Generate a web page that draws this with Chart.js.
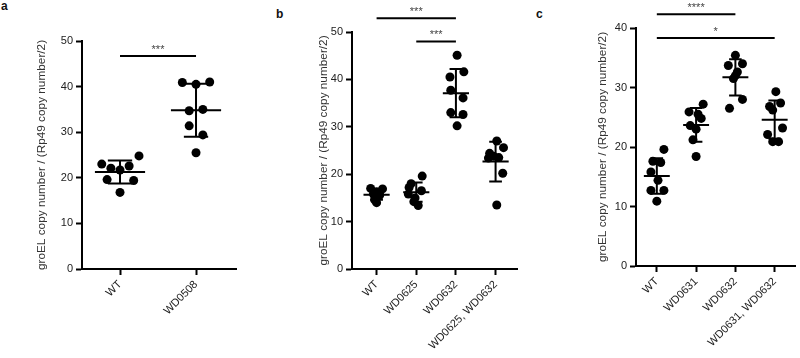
<!DOCTYPE html>
<html>
<head>
<meta charset="utf-8">
<script src="https://cdn.jsdelivr.net/npm/chart.js@4.4.0/dist/chart.umd.min.js"></script>
<style>
    body { margin: 0; width: 800px; height: 358px; background: #fff; position: relative; overflow: hidden; font-family: "Liberation Sans", Arial, sans-serif; }
    canvas { position: absolute; top: 0; }
    .lbl { position: absolute; font-size: 12px; line-height: 12px; font-weight: bold; color: #111; }
</style>
</head>
<body>
<div class="lbl" style="left:1px;top:0px">a</div>
<div class="lbl" style="left:276px;top:8px">b</div>
<div class="lbl" style="left:536px;top:8px">c</div>
<canvas id="chartA" width="270" height="358" style="left:0px"></canvas>
<canvas id="chartB" width="270" height="358" style="left:270px"></canvas>
<canvas id="chartC" width="260" height="358" style="left:540px"></canvas>
<script>
// panel a
var labelsA = ['WT', 'WD0508'];
var aWT = [23.0, 22.1, 21.7, 22.6, 24.8, 19.6, 19.4, 16.8];
var aWD0508 = [40.9, 40.5, 41.0, 34.7, 35.0, 31.4, 29.4, 25.5];
var jitA = [[-0.24, -0.12, 0, 0.12, 0.25, -0.17, 0.18, 0], [-0.18, 0, 0.18, -0.09, 0.09, -0.09, 0.09, 0]];
var sigA = [{ from: 0, to: 1, y: 46.7, text: '***' }];

// panel b
var labelsB = ['WT', 'WD0625', 'WD0632', 'WD0625, WD0632'];
var bWT = [17.0, 16.9, 16.3, 15.8, 15.6, 15.2, 14.6, 14.0];
var bWD0625 = [19.6, 18.0, 17.2, 16.5, 15.8, 15.0, 14.2, 13.4];
var bWD0632 = [45.1, 41.6, 40.5, 37.7, 36.1, 33.0, 32.6, 30.2];
var bBoth = [27.0, 25.6, 24.4, 23.8, 23.5, 23.4, 20.2, 13.5];
var jitB = [
    [-0.15, 0.15, 0, -0.08, 0.08, 0, -0.05, 0],
    [0.15, -0.13, -0.18, 0.13, -0.2, -0.03, -0.06, 0.05],
    [0.03, 0.2, -0.15, -0.13, 0.18, -0.13, 0.18, 0.03],
    [0.03, 0.2, -0.15, -0.05, 0.08, -0.18, 0.18, 0.03]
];
var sigB = [{ from: 0, to: 2, y: 52.9, text: '***' }, { from: 1, to: 2, y: 48.0, text: '***' }];

// panel c
var labelsC = ['WT', 'WD0631', 'WD0632', 'WD0631, WD0632'];
var cWT = [19.6, 17.6, 17.4, 15.8, 14.4, 12.7, 12.7, 10.9];
var cWD0631 = [27.2, 25.9, 25.5, 24.8, 23.6, 23.0, 21.2, 18.4];
var cWD0632 = [35.4, 34.0, 33.7, 32.6, 32.0, 31.5, 28.0, 26.5];
var cBoth = [29.3, 27.4, 26.8, 26.2, 23.2, 22.1, 20.9, 20.9];
var jitC = [
    [0.18, -0.1, 0.1, -0.15, 0.03, -0.15, 0.18, 0],
    [0.18, -0.18, 0.05, 0.13, -0.15, 0, -0.08, 0],
    [0, 0.18, -0.18, 0.05, 0, -0.05, 0.18, -0.15],
    [0.03, 0.15, -0.13, -0.05, 0.2, -0.18, -0.05, 0.1]
];
var sigC = [{ from: 0, to: 2, y: 42.3, text: '****' }, { from: 0, to: 3, y: 38.3, text: '*' }];

var yTitle = 'groEL copy number / (Rp49 copy number/2)';
var FONT = '"Liberation Sans", Arial, sans-serif';

function mean(a) { return a.reduce(function (s, v) { return s + v; }, 0) / a.length; }
function sd(a) {
    var m = mean(a);
    return Math.sqrt(a.reduce(function (s, v) { return s + (v - m) * (v - m); }, 0) / (a.length - 1));
}

// draws the significance brackets and stars, placed with the chart scales
function sigPlugin(list) {
    return {
        id: 'sig',
        afterDatasetsDraw: function (chart) {
            var ctx = chart.ctx, xs = chart.scales.x, ys = chart.scales.y;
            ctx.save();
            list.forEach(function (s) {
                var x1 = xs.getPixelForValue(s.from), x2 = xs.getPixelForValue(s.to), y = ys.getPixelForValue(s.y);
                ctx.strokeStyle = '#000';
                ctx.lineWidth = 2;
                ctx.beginPath();
                ctx.moveTo(x1, y);
                ctx.lineTo(x2, y);
                ctx.stroke();
                ctx.fillStyle = '#444';
                ctx.font = '11px ' + FONT;
                ctx.textAlign = 'center';
                ctx.fillText(s.text, (x1 + x2) / 2, y - 3);
            });
            ctx.restore();
        }
    };
}

function makePanel(id, labels, groups, jit, sig, p) {
    var points = [], meanLine = [], sdLine = [];
    groups.forEach(function (vals, g) {
        vals.forEach(function (v, k) { points.push({ x: g + jit[g][k], y: v }); });
        var m = mean(vals), s = sd(vals);
        meanLine.push({ x: g - 0.33, y: m }, { x: g + 0.33, y: m }, { x: g, y: null });
        sdLine.push({ x: g, y: m - s }, { x: g, y: m + s }, { x: g, y: null });
        sdLine.push({ x: g - 0.16, y: m + s }, { x: g + 0.16, y: m + s }, { x: g, y: null });
        sdLine.push({ x: g - 0.16, y: m - s }, { x: g + 0.16, y: m - s }, { x: g, y: null });
    });

    var tickFont = { family: FONT, size: 11 };
    var axisGrid = { drawOnChartArea: false, drawTicks: true, tickLength: 6, tickWidth: 2, tickColor: '#000' };

    new Chart(document.getElementById(id), {
        type: 'scatter',
        data: {
            datasets: [{
                data: points,
                pointRadius: 4.5,
                pointBorderWidth: 0,
                backgroundColor: '#000',
                borderColor: '#000'
            }, {
                type: 'line',
                data: meanLine,
                borderColor: '#000',
                borderWidth: 2,
                pointRadius: 0,
                spanGaps: false
            }, {
                type: 'line',
                data: sdLine,
                borderColor: '#000',
                borderWidth: 2,
                pointRadius: 0,
                spanGaps: false
            }]
        },
        options: {
            responsive: false,
            animation: false,
            layout: { padding: { left: p.padLeft, right: p.padRight, top: p.padTop, bottom: 0 } },
            plugins: { legend: { display: false }, tooltip: { enabled: false } },
            scales: {
                x: {
                    type: 'linear',
                    min: p.xMin,
                    max: p.xMax,
                    afterBuildTicks: function (axis) {
                        axis.ticks = labels.map(function (l, i) { return { value: i }; });
                    },
                    afterFit: function (axis) { axis.height = p.xH; },
                    ticks: {
                        callback: function (v) { return labels[v]; },
                        minRotation: 45,
                        maxRotation: 45,
                        autoSkip: false,
                        color: '#222',
                        font: tickFont,
                        padding: 3
                    },
                    grid: axisGrid,
                    border: { color: '#000', width: 2 }
                },
                y: {
                    min: 0,
                    max: p.yMax,
                    afterFit: function (axis) { axis.width = p.yW; },
                    ticks: { stepSize: 10, color: '#222', font: tickFont, padding: 3 },
                    grid: axisGrid,
                    border: { color: '#000', width: 2 },
                    title: { display: true, text: yTitle, color: '#333', font: { family: FONT, size: 11.8 }, padding: 0 }
                }
            }
        },
        plugins: [sigPlugin(sig)]
    });
}

makePanel('chartA', labelsA, [aWT, aWD0508], jitA, sigA,
    { padLeft: 35, yW: 47, padRight: 34, padTop: 41, xH: 89, xMin: -0.5, xMax: 1.526, yMax: 50 });
makePanel('chartB', labelsB, [bWT, bWD0625, bWD0632, bBoth], jitB, sigB,
    { padLeft: 47, yW: 35, padRight: 23, padTop: 32, xH: 89, xMin: -0.62, xMax: 3.54, yMax: 50 });
makePanel('chartC', labelsC, [cWT, cWD0631, cWD0632, cBoth], jitC, sigC,
    { padLeft: 56, yW: 40, padRight: 3, padTop: 28, xH: 92, xMin: -0.53, xMax: 3.53, yMax: 40 });
</script>
</body>
</html>
